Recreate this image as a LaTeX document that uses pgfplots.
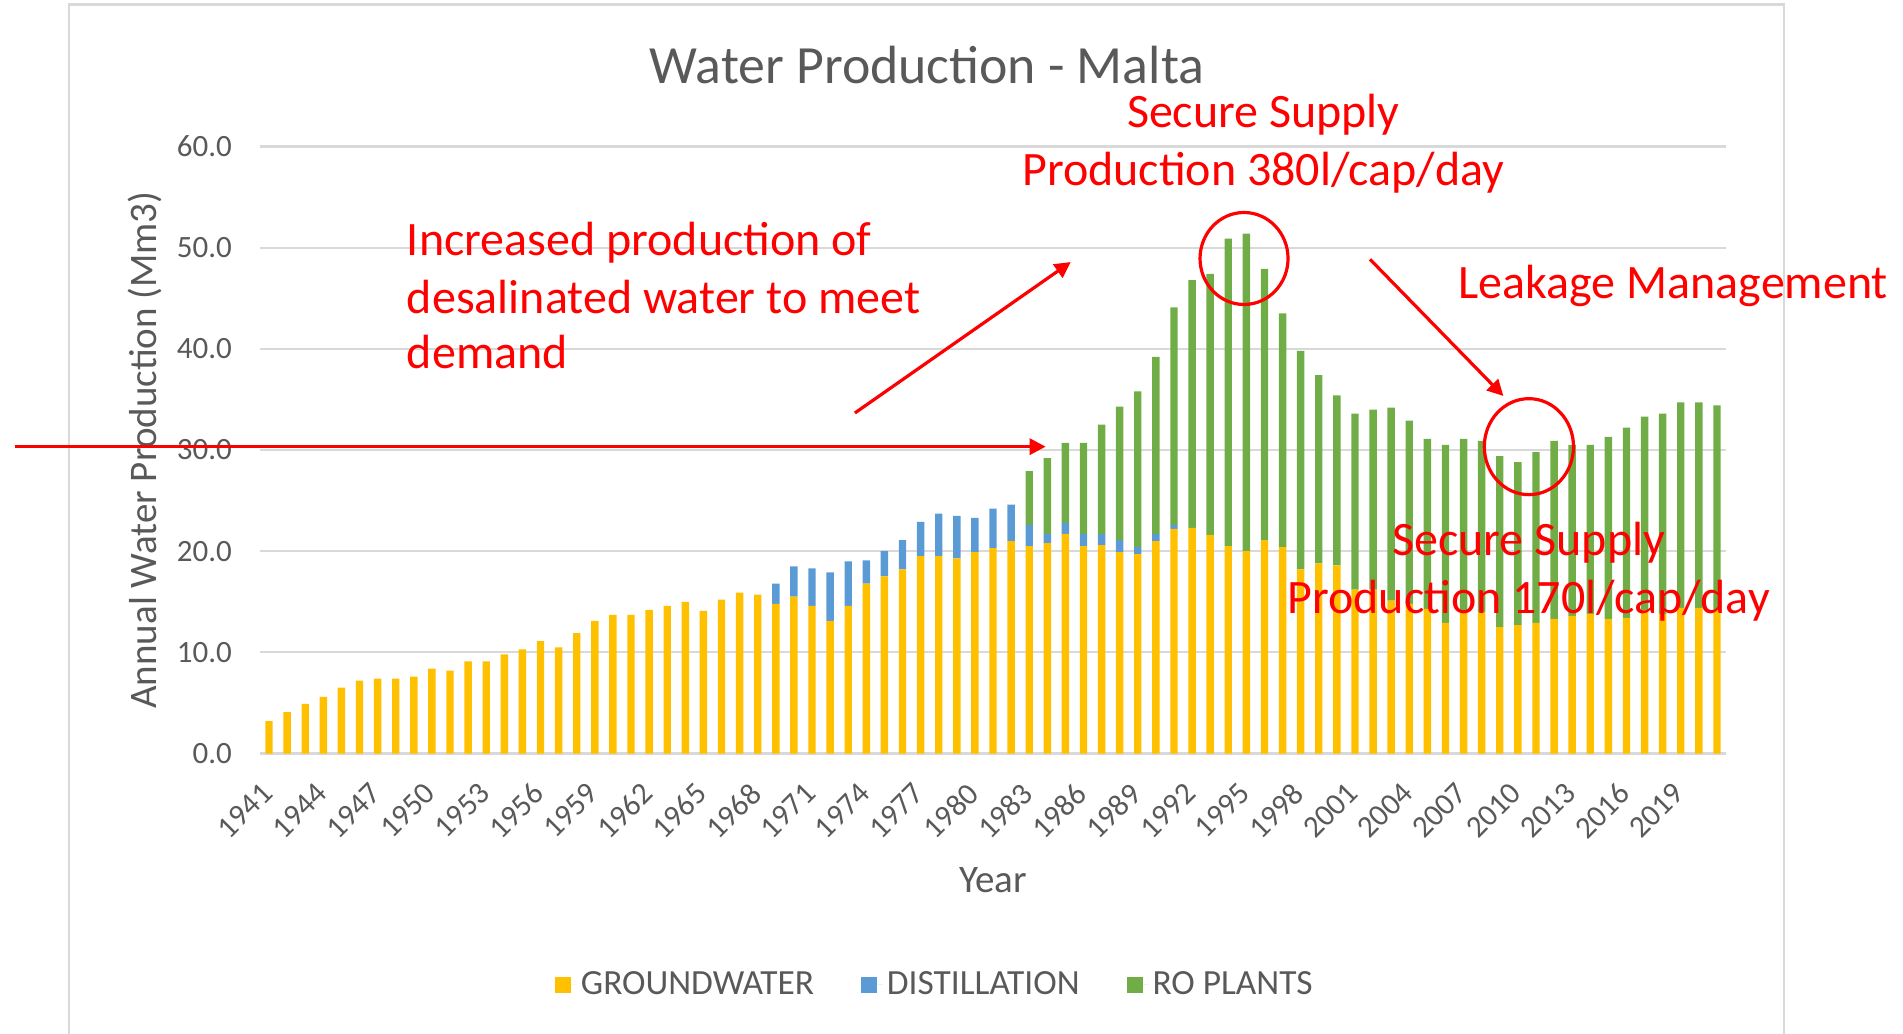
\documentclass[border=0pt]{standalone}
\usepackage{pgfplots}
\pgfplotsset{compat=1.18}
\usepackage{pgfplotstable}
\usepackage{fontspec}
\setmainfont{Carlito}
\usetikzlibrary{arrows.meta}
\definecolor{gw}{HTML}{FFC000}
\definecolor{dist}{HTML}{5B9BD5}
\definecolor{ro}{HTML}{70AD47}
\definecolor{txtgray}{HTML}{595959}
\definecolor{gridgray}{HTML}{D9D9D9}
\definecolor{annred}{HTML}{FF0000}

\pgfplotstableread{
year gw dist ro
1941 3.2 0 0
1942 4.1 0 0
1943 4.9 0 0
1944 5.6 0 0
1945 6.5 0 0
1946 7.2 0 0
1947 7.4 0 0
1948 7.4 0 0
1949 7.6 0 0
1950 8.4 0 0
1951 8.2 0 0
1952 9.1 0 0
1953 9.1 0 0
1954 9.8 0 0
1955 10.3 0 0
1956 11.1 0 0
1957 10.5 0 0
1958 11.9 0 0
1959 13.1 0 0
1960 13.7 0 0
1961 13.7 0 0
1962 14.2 0 0
1963 14.6 0 0
1964 15.0 0 0
1965 14.1 0 0
1966 15.2 0 0
1967 15.9 0 0
1968 15.7 0 0
1969 14.8 2.0 0
1970 15.5 3.0 0
1971 14.6 3.7 0
1972 13.1 4.8 0
1973 14.6 4.4 0
1974 16.8 2.3 0
1975 17.5 2.5 0
1976 18.2 2.9 0
1977 19.5 3.4 0
1978 19.5 4.2 0
1979 19.3 4.2 0
1980 19.9 3.4 0
1981 20.3 3.9 0
1982 21.0 3.6 0
1983 20.5 2.1 5.3
1984 20.8 0.9 7.5
1985 21.7 1.1 7.9
1986 20.5 1.2 9.0
1987 20.6 1.1 10.8
1988 19.9 1.2 13.2
1989 19.7 0.7 15.4
1990 21.0 0.7 17.5
1991 22.2 0.4 21.5
1992 22.3 0 24.5
1993 21.6 0 25.8
1994 20.5 0 30.4
1995 20.0 0 31.4
1996 21.1 0 26.8
1997 20.4 0 23.1
1998 18.2 0 21.6
1999 18.8 0 18.6
2000 18.6 0 16.8
2001 16.2 0 17.4
2002 16.2 0 17.8
2003 15.1 0 19.1
2004 14.8 0 18.1
2005 14.3 0 16.8
2006 12.9 0 17.6
2007 14.1 0 17.0
2008 14.0 0 16.9
2009 12.5 0 16.9
2010 12.7 0 16.1
2011 12.9 0 16.9
2012 13.3 0 17.6
2013 13.6 0 16.9
2014 13.8 0 16.7
2015 13.3 0 18.0
2016 13.4 0 18.8
2017 14.2 0 19.1
2018 13.8 0 19.8
2019 14.4 0 20.3
2020 14.4 0 20.3
2021 14.2 0 20.2
}\water

\tikzset{ann/.style={text=annred, font=\fontsize{24}{29}\selectfont, inner sep=0pt},
  annline/.style={draw=annred, line width=1.6pt},
  annarrow/.style={draw=annred, line width=1.6pt, -{Triangle[length=8pt,width=8pt]}}}

\begin{document}
\begin{tikzpicture}
\path[use as bounding box] (-130pt,-140.25pt) rectangle (821.5pt,376.75pt);
\draw[gridgray, line width=1.2pt] (-95.5pt,-160pt) rectangle (762pt,374.5pt);
\begin{axis}[
  at={(0pt,0pt)}, anchor=south west,
  width=733pt, height=303.5pt, scale only axis,
  xmin=1940.5, xmax=2021.5, ymin=0, ymax=60,
  ybar stacked, bar width=3.7pt,
  clip=false,
  axis lines=left, axis line style={draw=none},
  ymajorgrids, grid style={gridgray, line width=1.1pt},
  major tick length=0pt, tick style={draw=none},
  xtick={1941,1944,...,2019},
  ytick={0,10,...,60},
  yticklabel style={font=\fontsize{15.5}{18}\selectfont, text=txtgray, anchor=east, xshift=-10.5pt,
    /pgf/number format/.cd, fixed, fixed zerofill, precision=1, assume math mode=true},
  xticklabel style={font=\fontsize{15.5}{18}\selectfont, text=txtgray, xshift=1.5pt, yshift=-15pt, rotate=45, anchor=east,
    /pgf/number format/.cd, 1000 sep={}, assume math mode=true},
  xlabel={Year},
  xlabel style={at={(rel axis cs:0.5,-0.2293)}, anchor=base, font=\fontsize{19.5}{23}\selectfont, text=txtgray},
  ylabel={Annual Water Production (Mm3)},
  ylabel style={at={(rel axis cs:-0.0709,0.5)}, anchor=base, rotate=0, font=\fontsize{19.5}{23}\selectfont, text=txtgray},
  legend style={at={(rel axis cs:0.461,-0.381)}, anchor=center, draw=none, fill=none,
    font=\fontsize{17.7}{21}\selectfont, text=txtgray,
    /tikz/every even column/.append style={column sep=21.4pt}},
  legend columns=3,
  every axis plot post/.append style={legend image code/.code={\fill[##1] (0pt,-4pt) rectangle (8pt,4pt); \path (0pt,0pt) -- (11pt,0pt);}},
]
\addplot[fill=gw, draw=none] table[x=year, y=gw] {\water};
\addplot[fill=dist, draw=none] table[x=year, y=dist] {\water};
\addplot[fill=ro, draw=none] table[x=year, y=ro] {\water};
\legend{GROUNDWATER, DISTILLATION, RO PLANTS}

\coordinate (ttl) at (rel axis cs:0.455,1.104);
\coordinate (a1) at (axis cs:1948.6,49.27);
\coordinate (a2) at (axis cs:1948.6,43.51);
\coordinate (a3) at (axis cs:1948.6,38.07);
\coordinate (s1) at (axis cs:1995.94,61.9);
\coordinate (s2) at (axis cs:1995.94,56.1);
\coordinate (lk) at (axis cs:2006.7,45.0);
\coordinate (u1) at (axis cs:2010.6,19.62);
\coordinate (u2) at (axis cs:2010.6,13.86);
\coordinate (h1) at (axis cs:1926.94,30.33);
\coordinate (h2) at (axis cs:1983.91,30.33);
\coordinate (d1) at (axis cs:1973.37,33.66);
\coordinate (d2) at (axis cs:1985.3,48.58);
\coordinate (l1) at (axis cs:2001.83,48.85);
\coordinate (l2) at (axis cs:2009.2,35.34);
\coordinate (c1) at (axis cs:1994.87,48.93);
\coordinate (c2) at (axis cs:2010.61,30.33);
\end{axis}

\node[anchor=base, text=txtgray, font=\fontsize{26.9}{31}\selectfont, inner sep=0pt] at (ttl) {Water Production - Malta};

\node[ann, anchor=base west] at (a1) {Increased production of};
\node[ann, anchor=base west] at (a2) {desalinated water to meet};
\node[ann, anchor=base west] at (a3) {demand};
\node[ann, anchor=base] at (s1) {Secure Supply};
\node[ann, anchor=base] at (s2) {Production 380l/cap/day};
\node[ann, anchor=base west] at (lk) {Leakage Management};
\node[ann, anchor=base] at (u1) {Secure Supply};
\node[ann, anchor=base] at (u2) {Production 170l/cap/day};

\draw[annarrow] (h1) -- (h2);
\draw[annarrow] (d1) -- (d2);
\draw[annarrow] (l1) -- (l2);
\draw[annline] (c1) ellipse [x radius=22pt, y radius=23pt];
\draw[annline] (c2) ellipse [x radius=22.3pt, y radius=24pt];
\end{tikzpicture}
\end{document}
